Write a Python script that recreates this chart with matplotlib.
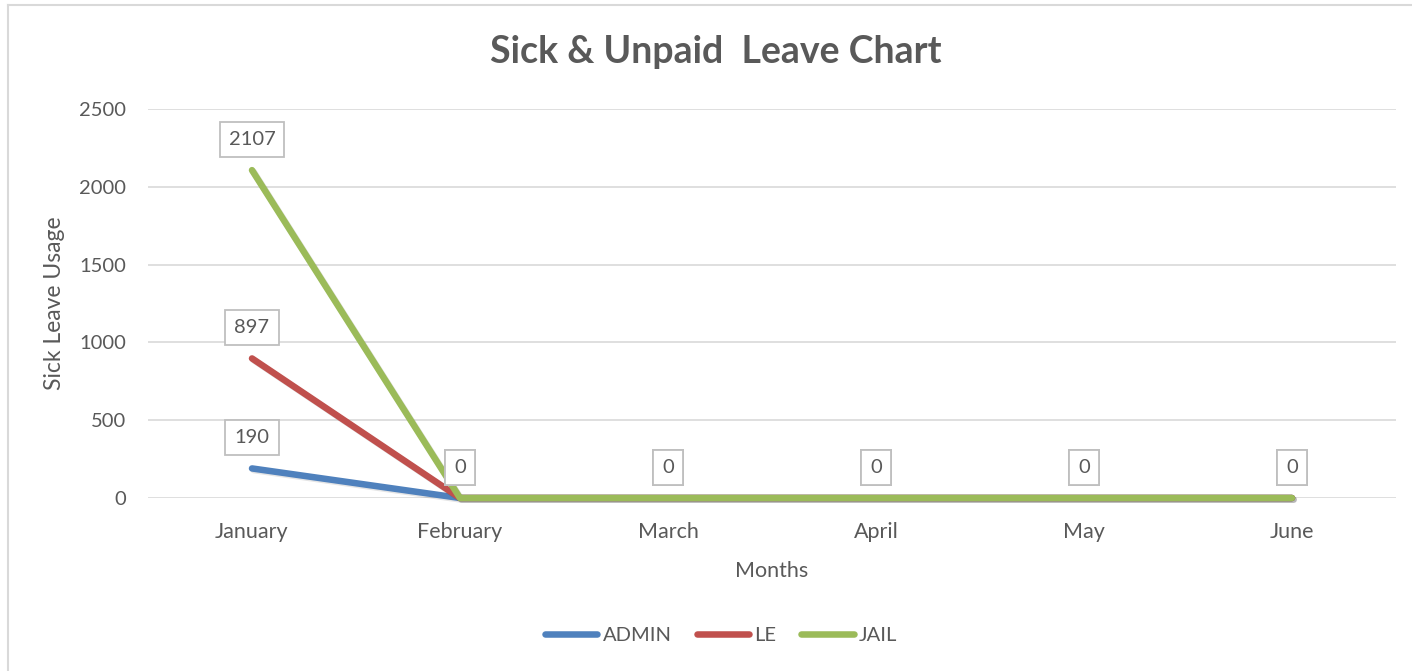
import matplotlib
matplotlib.use("Agg")
import matplotlib.pyplot as plt
import matplotlib.patheffects as pe
from matplotlib.lines import Line2D

# ---- data ----
months = ["January", "February", "March", "April", "May", "June"]
admin = [190, 0, 0, 0, 0, 0]
le = [897, 0, 0, 0, 0, 0]
jail = [2107, 0, 0, 0, 0, 0]
series = [("ADMIN", admin, "#4F81BD"), ("LE", le, "#C0504D"), ("JAIL", jail, "#9BBB59")]
yticks = [0, 500, 1000, 1500, 2000, 2500]

TXT = "#595959"
GRID = "#D9D9D9"
FS = 14.5
plt.rcParams["font.family"] = ["Lato", "DejaVu Sans"]

W, H = 1412, 671
fig = plt.figure(figsize=(W / 100, H / 100), dpi=100)
ax = fig.add_axes([148 / W, 1 - 498 / H, (1396 - 148) / W, (498 - 109) / H])

x = list(range(len(months)))
shadow = [pe.SimpleLineShadow(offset=(1.2, -1.2), shadow_color="#000000", alpha=0.1), pe.Normal()]
for name, vals, col in series:
    ax.plot(x, vals, color=col, lw=4.7, solid_capstyle="round", solid_joinstyle="round",
            label=name, path_effects=shadow, zorder=3, clip_on=False)

# data labels (boxed, above each point)
for name, vals, col in series:
    for xi, v in zip(x, vals):
        ax.annotate(str(v), (xi, v), xytext=(0, 22), textcoords="offset points",
                    ha="center", va="center", fontsize=FS, color=TXT, zorder=5,
                    bbox=dict(boxstyle="square,pad=0.45", fc="white", ec="#BFBFBF", lw=1.3))

ax.set_xlim(-0.5, len(months) - 0.5)
ax.set_ylim(0, 2500)
ax.set_yticks(yticks)
ax.set_xticks(x)
ax.set_xticklabels(months, fontsize=15.5)
ax.yaxis.grid(True, color=GRID, lw=1.2)
ax.set_axisbelow(True)
for s in ax.spines.values():
    s.set_visible(False)
ax.tick_params(axis="both", length=0, labelcolor=TXT)
ax.tick_params(axis="y", labelsize=FS, pad=16)
ax.tick_params(axis="x", pad=17)

ax.set_xlabel("Months", fontsize=15.5, color=TXT, labelpad=14)
ax.set_ylabel("Sick Leave Usage", fontsize=16.5, color=TXT, labelpad=10)

fig.text(716 / W, 1 - 52 / H, "Sick & Unpaid  Leave Chart", ha="center", va="center",
         fontsize=27, fontweight="bold", color=TXT)

handles = [Line2D([0], [0], color=c, lw=4.7, solid_capstyle="round") for _, _, c in series]
fig.legend(handles, [n for n, _, _ in series], loc="center", bbox_to_anchor=(721 / W, 1 - 635 / H),
           ncol=3, frameon=False, fontsize=FS, labelcolor=TXT, handlelength=2.6,
           handletextpad=0.25, columnspacing=1.25)

# outer chart border
fig.add_artist(Line2D([8 / W, 8 / W], [0, 1 - 5 / H], color="#D9D9D9", lw=1.5))
fig.add_artist(Line2D([8 / W, 1], [1 - 5 / H, 1 - 5 / H], color="#D9D9D9", lw=1.5))

fig.savefig("out.png", dpi=100)
